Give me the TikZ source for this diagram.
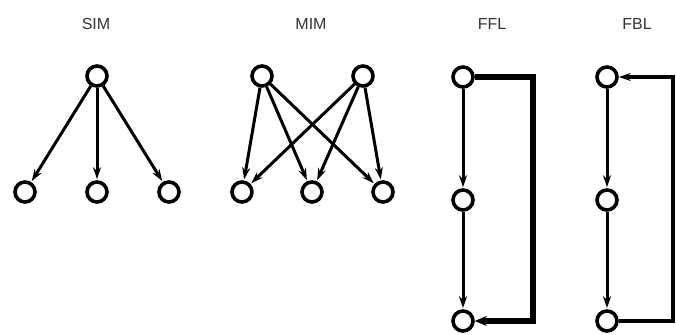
\documentclass[tikz,border=0pt]{standalone}
\usepackage{fontspec}
\setmainfont{Liberation Sans}
\usetikzlibrary{arrows.meta}
\begin{document}
\begin{tikzpicture}[x=1pt,y=-1pt,
  nd/.style={circle,draw,line width=3.6pt,minimum size=20pt,inner sep=0pt},
  lbl/.style={font=\fontsize{16}{16}\selectfont,text=black!80},
  ed/.style={line width=3pt,-{Stealth[length=12pt,width=8pt]},shorten >=1pt},
  thickfb/.style={line width=6pt,-{Stealth[length=12pt,width=10pt]}},
  thinfb/.style={line width=3.4pt,-{Stealth[length=12pt,width=8pt]}}]
\useasboundingbox (0,0) rectangle (676,334);
% labels
\node[lbl] (lsim) at (96,24) {SIM};
\node[lbl] (lmim) at (311,24) {MIM};
\node[lbl] (lffl) at (492,24) {FFL};
\node[lbl] (lfbl) at (637,24) {FBL};
% SIM
\node[nd] (s0) at (97,76) {};
\node[nd] (s1) at (25,192) {};
\node[nd] (s2) at (97,192) {};
\node[nd] (s3) at (169,192) {};
\draw[ed] (s0) -- (s1);
\draw[ed] (s0) -- (s2);
\draw[ed] (s0) -- (s3);
% MIM
\node[nd] (m0) at (262,76) {};
\node[nd] (m1) at (363,76) {};
\node[nd] (b1) at (242,192) {};
\node[nd] (b2) at (312,192) {};
\node[nd] (b3) at (383,192) {};
\foreach \t in {m0,m1}{
  \foreach \b in {b1,b2,b3}{
    \draw[ed] (\t) -- (\b);
  }
}
% FFL
\node[nd] (f0) at (463,77) {};
\node[nd] (f1) at (463,200) {};
\node[nd] (f2) at (463,321) {};
\draw[ed] (f0) -- (f1);
\draw[ed] (f1) -- (f2);
\coordinate (fa) at (533,77);
\coordinate (fb) at (533,321);
\draw[thickfb] (f0.east) -- (fa) -- (fb) -- (f2.east);
% FBL
\node[nd] (g0) at (607,77) {};
\node[nd] (g1) at (607,200) {};
\node[nd] (g2) at (607,321) {};
\draw[ed] (g0) -- (g1);
\draw[ed] (g1) -- (g2);
\coordinate (ga) at (673,321);
\coordinate (gb) at (673,77);
\draw[thinfb] (g2.east) -- (ga) -- (gb) -- (g0.east);
\end{tikzpicture}
\end{document}
